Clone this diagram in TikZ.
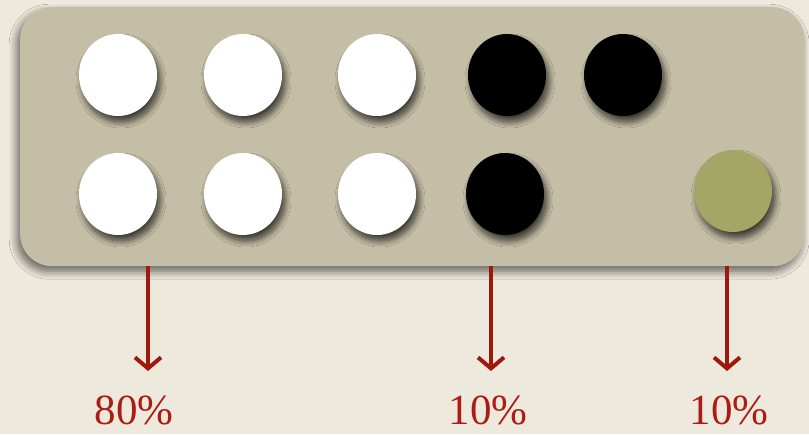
\documentclass[tikz,border=0pt]{standalone}
\usepackage{fontspec}
\setmainfont{Liberation Serif}
\usetikzlibrary{arrows.meta,shapes.geometric,shadows.blur}

\definecolor{paper}{RGB}{238,233,221}
\definecolor{tray}{RGB}{197,190,166}
\definecolor{olive}{RGB}{163,166,101}
\definecolor{arrowred}{RGB}{158,24,12}
\definecolor{textred}{RGB}{172,28,20}

\tikzset{
  bead/.style={ellipse, minimum width=78pt, minimum height=82pt, inner sep=0pt,
    blur shadow={shadow xshift=3pt, shadow yshift=-6pt, shadow blur radius=6pt,
      shadow blur steps=10, shadow opacity=70}},
  share/.style={draw=arrowred, line width=4pt, -{Straight Barb[length=11pt,width=26pt]}},
  pct/.style={text=textred, font=\fontsize{43}{48}\selectfont, anchor=base,
    text depth=0pt, inner sep=0pt}
}

\begin{document}
\begin{tikzpicture}[x=1pt,y=-1pt]
        % ---- background ----
        \fill[paper] (0,0) rectangle (809,434);
        \useasboundingbox (0,0) rectangle (809,434);

        % ---- tray ----
        \node[fill=tray, rounded corners=32pt, minimum width=784pt, minimum height=259pt,
              inner sep=0pt, anchor=north west,
              blur shadow={shadow xshift=-3pt, shadow yshift=-5pt, shadow blur radius=8pt,
                shadow blur steps=10, shadow opacity=60}]
            (tray) at (20,7) {};

        % ---- beads, top row ----
        \node[bead, fill=white] (w1) at (118,75) {};
        \node[bead, fill=white] (w2) at (243,75) {};
        \node[bead, fill=white] (w3) at (377,75) {};
        \node[bead, fill=black] (b1) at (507,75) {};
        \node[bead, fill=black] (b2) at (623,75) {};

        % ---- beads, bottom row ----
        \node[bead, fill=white] (w4) at (118,194) {};
        \node[bead, fill=white] (w5) at (243,194) {};
        \node[bead, fill=white] (w6) at (377,194) {};
        \node[bead, fill=black] (b3) at (505,194) {};
        \node[bead, fill=olive] (g1) at (733,191) {};

        % ---- shares ----
        \node[pct] (p1) at (134,424) {80\%};
        \node[pct] (p2) at (488,424) {10\%};
        \node[pct] (p3) at (729,424) {10\%};

        \coordinate (e1) at (148,371);
        \coordinate (e2) at (491,371);
        \coordinate (e3) at (727,371);

        \draw[share] (tray.south -| e1) -- (e1);
        \draw[share] (tray.south -| e2) -- (e2);
        \draw[share] (tray.south -| e3) -- (e3);
\end{tikzpicture}
\end{document}
